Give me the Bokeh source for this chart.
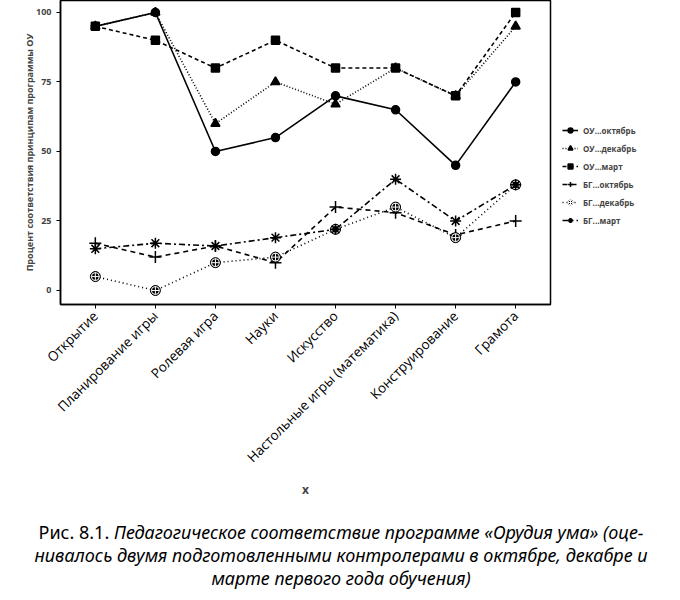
import math
from bokeh.plotting import figure
from bokeh.models import Legend, LegendItem, FixedTicker, Div, Range1d
from bokeh.layouts import column
from bokeh.embed import file_html
from bokeh.resources import INLINE

categories = ["Открытие", "Планирование игры", "Ролевая игра", "Науки", "Искусство",
              "Настольные игры (математика)", "Конструирование", "Грамота"]
ou_oct = [95, 100, 50, 55, 70, 65, 45, 75]
ou_dec = [95, 100, 60, 75, 67, 80, 70, 95]
ou_mar = [95, 90, 80, 90, 80, 80, 70, 100]
bg_oct = [17, 12, 16, 10, 30, 28, 20, 25]
bg_dec = [5, 0, 10, 12, 22, 30, 19, 38]
bg_mar = [15, 17, 16, 19, 22, 40, 25, 38]
series_names = ["ОУ...октябрь", "ОУ...декабрь", "ОУ...март", "БГ...октябрь", "БГ...декабрь", "БГ...март"]
y_ticks = [0, 25, 50, 75, 100]

xs = list(range(len(categories)))
FONT = "Open Sans"

p = figure(frame_width=490, frame_height=304, output_backend="svg", toolbar_location=None,
           x_range=Range1d(-0.58, 7.58), y_range=Range1d(-5.04, 104.3),
           min_border_left=60, min_border_right=122, min_border_top=0, min_border_bottom=20)
p.grid.visible = False
p.background_fill_color = "white"
p.outline_line_color = "black"
p.outline_line_width = 1.5

p.xaxis.ticker = FixedTicker(ticks=xs)
p.xaxis.major_label_overrides = {i: c for i, c in enumerate(categories)}
p.xaxis.major_label_orientation = math.pi / 4
p.xaxis.major_label_text_font = FONT
p.xaxis.major_label_text_font_size = "13.5px"
p.xaxis.major_label_text_color = "black"
p.xaxis.axis_label = "x"
p.xaxis.axis_label_text_font = FONT
p.xaxis.axis_label_text_font_style = "bold"
p.xaxis.axis_label_text_font_size = "12px"
p.xaxis.axis_label_standoff = 6
p.xaxis.minor_tick_line_color = None
p.xaxis.major_tick_in = 0
p.xaxis.major_tick_out = 4
p.xaxis.axis_line_width = 1.5

p.yaxis.ticker = FixedTicker(ticks=y_ticks)
p.yaxis.axis_label = "Процент соответствия принципам программы ОУ"
p.yaxis.axis_label_text_font = FONT
p.yaxis.axis_label_text_font_style = "bold"
p.yaxis.axis_label_text_font_size = "9px"
p.yaxis.axis_label_standoff = -3
p.yaxis.major_label_text_font = FONT
p.yaxis.major_label_text_font_style = "bold"
p.yaxis.major_label_text_font_size = "9px"
p.yaxis.major_label_standoff = 5
p.yaxis.minor_tick_line_color = None
p.yaxis.major_tick_in = 0
p.yaxis.major_tick_out = 4
p.yaxis.axis_line_width = 1.5

items = []

def add(vals, name, dash, marker, size, fill="black", extra=None):
    r_line = p.line(xs, vals, line_color="black", line_width=1.6, line_dash=dash)
    rs = [r_line]
    if extra is not None:
        rs.append(p.scatter(xs, vals, marker=extra[0], size=extra[1], fill_color="black", line_color="black"))
    rs.append(p.scatter(xs, vals, marker=marker, size=size, fill_color=fill,
                        line_color="black" if extra is None else "white", line_width=1.5 if extra is None else 1))
    items.append(LegendItem(label=name, renderers=rs))

add(ou_oct, series_names[0], "solid", "circle", 8)
add(ou_dec, series_names[1], "1 2", "triangle", 9)
add(ou_mar, series_names[2], "4 3", "square", 8)
add(bg_oct, series_names[3], "5 4", "cross", 12)
add(bg_dec, series_names[4], "1 3", "circle_cross", 8, extra=("circle", 10))
add(bg_mar, series_names[5], "6 3 2 3", "asterisk", 11)

legend = Legend(items=items, location=(12, 78))
legend.label_text_font = FONT
legend.label_text_font_style = "bold"
legend.label_text_font_size = "8px"
legend.glyph_width = 16
legend.glyph_height = 12
legend.spacing = 6
legend.padding = 4
legend.margin = 0
legend.border_line_color = None
legend.background_fill_alpha = 0
p.add_layout(legend, "right")

caption = Div(
    text=("Рис. 8.1. <i>Педагогическое соответствие программе «Орудия ума» (оце-<br>"
          "нивалось двумя подготовленными контролерами в октябре, декабре и<br>"
          "марте первого года обучения)</i>"),
    width=672,
    styles={"text-align": "center", "font-family": "Noto Sans", "font-size": "18px",
            "line-height": "23px", "color": "black", "margin-top": "20px"},
)

layout = column(p, caption, spacing=0)
open("out.html", "w").write(file_html(layout, INLINE))
